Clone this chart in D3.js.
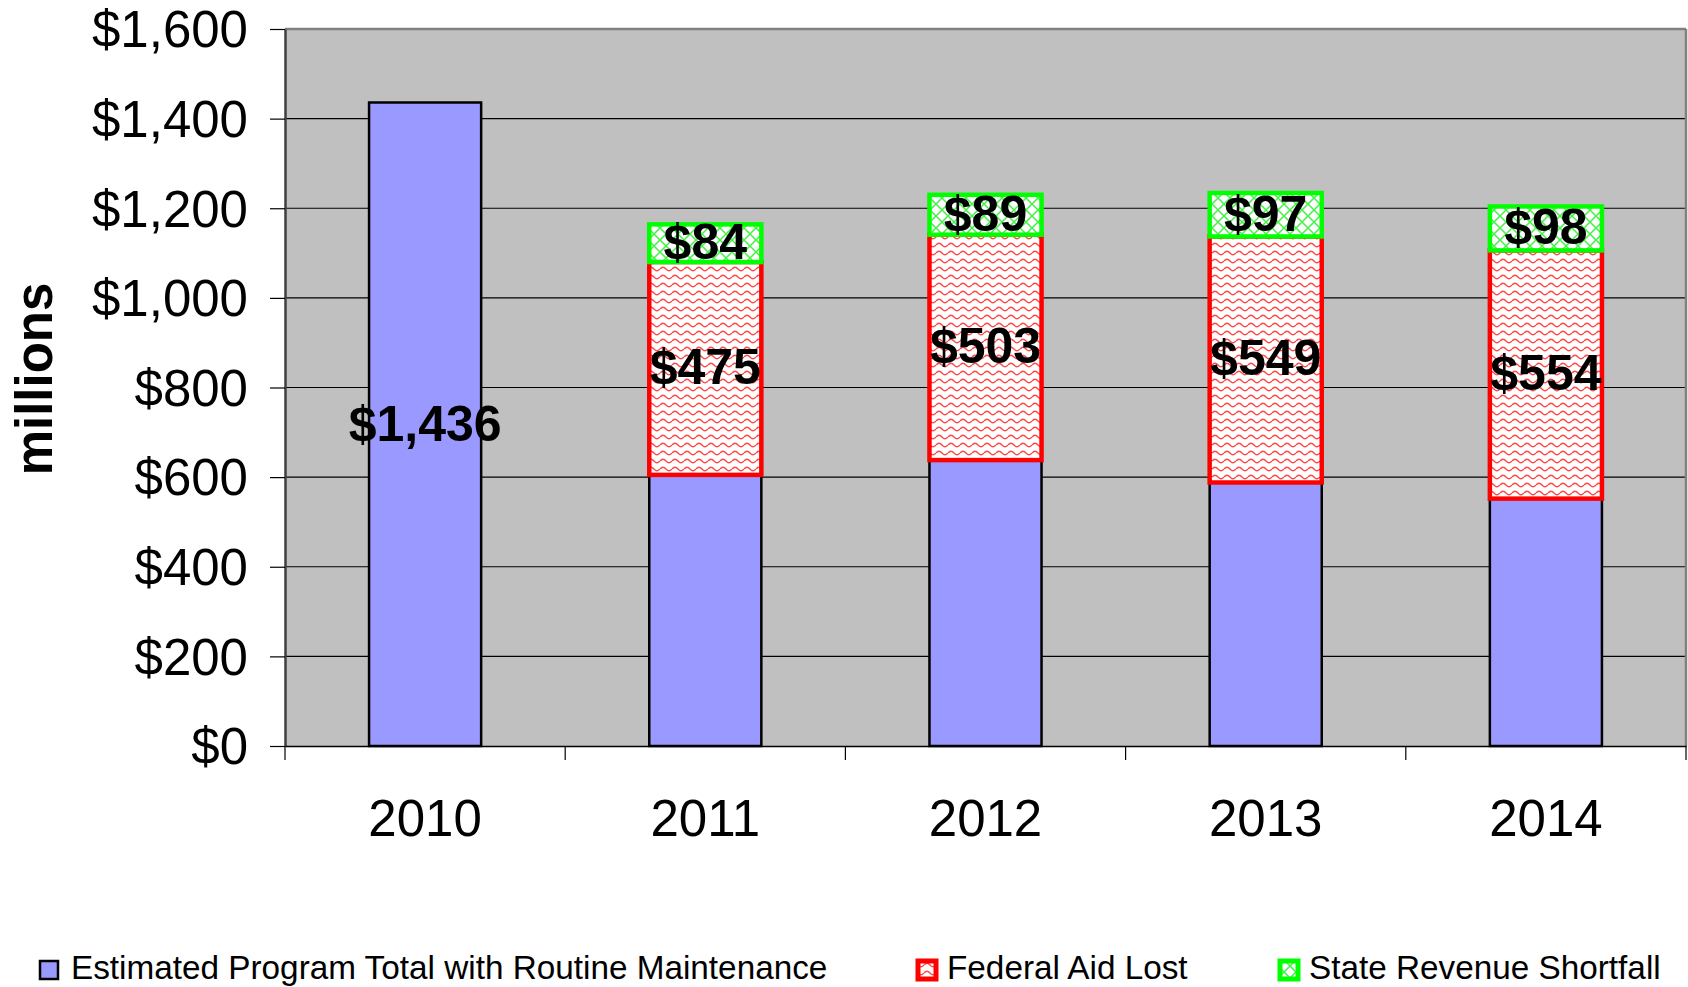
<!DOCTYPE html>
<html>
<head>
<meta charset="utf-8">
<script src="https://cdn.jsdelivr.net/npm/d3@7"></script>
<style>
  html, body { margin: 0; padding: 0; background: #fff; }
  svg { display: block; font-family: "Liberation Sans", Arial, sans-serif; }
</style>
</head>
<body>
<svg id="chart" width="1688" height="987"></svg>
<script>
// ---- data ----
const years = ["2010", "2011", "2012", "2013", "2014"];
const programTotal = [1436, 605, 638, 588, 552];
const federalAidLost = [0, 475, 503, 549, 554];
const stateShortfall = [0, 84, 89, 97, 98];
const yTicks = [0, 200, 400, 600, 800, 1000, 1200, 1400, 1600];
const seriesNames = ["Estimated Program Total with Routine Maintenance", "Federal Aid Lost", "State Revenue Shortfall"];

// ---- layout ----
const svg = d3.select("#chart");
const plot = { left: 285, right: 1686, top: 29, bottom: 746 };

const x = d3.scaleBand().domain(years).range([plot.left, plot.right]).padding(0);
const y = d3.scaleLinear().domain([0, 1600]).range([plot.bottom, plot.top]);
const bw = x.bandwidth();
const barW = bw * 0.4;
const barX = d => x(d) + (bw - barW) / 2;

// ---- patterns ----
const defs = svg.append("defs");
const wave = defs.append("pattern").attr("id", "wave").attr("patternUnits", "userSpaceOnUse")
  .attr("width", 12).attr("height", 8);
wave.append("rect").attr("width", 12).attr("height", 8).attr("fill", "#fff");
wave.append("path").attr("d", "M0,5 Q3,1.5 6,5 T12,5").attr("fill", "none")
  .attr("stroke", "#ff4a4a").attr("stroke-width", 1.4);

const lattice = defs.append("pattern").attr("id", "lattice").attr("patternUnits", "userSpaceOnUse")
  .attr("width", 12).attr("height", 12);
lattice.append("rect").attr("width", 12).attr("height", 12).attr("fill", "#fff");
lattice.append("path").attr("d", "M0,0 L12,12 M12,0 L0,12 M-1,11 L1,13 M11,-1 L13,1").attr("fill", "none")
  .attr("stroke", "#44f044").attr("stroke-width", 1.5);

// ---- plot background ----
svg.append("rect").attr("x", plot.left).attr("y", plot.top)
  .attr("width", plot.right - plot.left).attr("height", plot.bottom - plot.top)
  .attr("fill", "#c0c0c0");

// gridlines
svg.append("g").selectAll("line").data(yTicks.filter(t => t > 0 && t < 1600)).join("line")
  .attr("x1", plot.left).attr("x2", plot.right)
  .attr("y1", d => y(d)).attr("y2", d => y(d))
  .attr("stroke", "#000").attr("stroke-width", 1.2);

// top and right border
svg.append("line").attr("x1", plot.left).attr("x2", plot.right).attr("y1", plot.top).attr("y2", plot.top)
  .attr("stroke", "#808080").attr("stroke-width", 2.5);
svg.append("line").attr("x1", plot.right).attr("x2", plot.right).attr("y1", plot.top).attr("y2", plot.bottom)
  .attr("stroke", "#808080").attr("stroke-width", 2.5);

// ---- bars ----
const data = years.map((yr, i) => ({ yr, a: programTotal[i], b: federalAidLost[i], c: stateShortfall[i] }));

svg.append("g").selectAll("rect").data(data).join("rect")
  .attr("x", d => barX(d.yr)).attr("width", barW)
  .attr("y", d => y(d.a)).attr("height", d => y(0) - y(d.a))
  .attr("fill", "#9999ff").attr("stroke", "#000").attr("stroke-width", 2.5);

svg.append("g").selectAll("rect").data(data.filter(d => d.b > 0)).join("rect")
  .attr("x", d => barX(d.yr)).attr("width", barW)
  .attr("y", d => y(d.a + d.b)).attr("height", d => y(d.a) - y(d.a + d.b))
  .attr("fill", "url(#wave)").attr("stroke", "#ff0000").attr("stroke-width", 4.5);

svg.append("g").selectAll("rect").data(data.filter(d => d.c > 0)).join("rect")
  .attr("x", d => barX(d.yr)).attr("width", barW)
  .attr("y", d => y(d.a + d.b + d.c)).attr("height", d => y(d.a + d.b) - y(d.a + d.b + d.c))
  .attr("fill", "url(#lattice)").attr("stroke", "#00ff00").attr("stroke-width", 4.5);

// ---- axes ----
const yAxis = svg.append("g").attr("transform", `translate(${plot.left},0)`)
  .call(d3.axisLeft(y).tickValues(yTicks).tickFormat(d3.format("$,")).tickSize(15).tickSizeOuter(0).tickPadding(22));
yAxis.select(".domain").attr("stroke", "#404040").attr("stroke-width", 2.5);
yAxis.selectAll(".tick line").attr("stroke", "#000").attr("stroke-width", 1.2);
yAxis.selectAll(".tick text").attr("font-size", 51).attr("fill", "#000").attr("dy", "0.35em")
  .attr("font-family", "'Liberation Sans', Arial, sans-serif");

const xAxis = svg.append("g").attr("transform", `translate(0,${plot.bottom})`)
  .call(d3.axisBottom(x).tickSize(0).tickSizeOuter(0).tickPadding(54));
xAxis.select(".domain").attr("stroke", "#000").attr("stroke-width", 1.5);
xAxis.selectAll(".tick text").attr("font-size", 51).attr("fill", "#000")
  .attr("font-family", "'Liberation Sans', Arial, sans-serif");

// boundary ticks on x axis
const bounds = years.map(d => x(d)).concat([x(years[years.length - 1]) + bw]);
svg.append("g").selectAll("line").data(bounds).join("line")
  .attr("x1", d => d).attr("x2", d => d).attr("y1", plot.bottom).attr("y2", plot.bottom + 14)
  .attr("stroke", "#000").attr("stroke-width", 1.2);

// y axis title
svg.append("text").attr("transform", "translate(52,379) rotate(-90)")
  .attr("text-anchor", "middle").attr("font-size", 51).attr("font-weight", "bold").text("millions");

// ---- data labels ----
const lbl = svg.append("g").attr("font-size", 50).attr("font-weight", "bold").attr("text-anchor", "middle").attr("fill", "#000");
const fmt = d3.format("$,");
lbl.selectAll("text.a").data(data.filter(d => d.b === 0)).join("text").attr("class", "a")
  .attr("x", d => x(d.yr) + bw / 2).attr("y", d => y(d.a / 2)).attr("dy", "0.33em").text(d => fmt(d.a));
lbl.selectAll("text.b").data(data.filter(d => d.b > 0)).join("text").attr("class", "b")
  .attr("x", d => x(d.yr) + bw / 2).attr("y", d => y(d.a + d.b / 2)).attr("dy", "0.31em").text(d => fmt(d.b));
lbl.selectAll("text.c").data(data.filter(d => d.c > 0)).join("text").attr("class", "c")
  .attr("x", d => x(d.yr) + bw / 2).attr("y", d => y(d.a + d.b + d.c / 2)).attr("dy", "0.32em").text(d => fmt(d.c));

// ---- legend ----
const legendItems = [
  { name: seriesNames[0], fill: "#9999ff", stroke: "#000", sw: 2.5, mx: 40, tx: 71 },
  { name: seriesNames[1], fill: "url(#wave)", stroke: "#ff0000", sw: 5, mx: 918, tx: 947 },
  { name: seriesNames[2], fill: "url(#lattice)", stroke: "#00ff00", sw: 5, mx: 1280, tx: 1309 }
];
const lg = svg.append("g");
lg.selectAll("rect").data(legendItems).join("rect")
  .attr("x", d => d.mx).attr("y", 961).attr("width", 18).attr("height", 18)
  .attr("fill", d => d.fill).attr("stroke", d => d.stroke).attr("stroke-width", d => d.sw);
lg.selectAll("text").data(legendItems).join("text")
  .attr("x", d => d.tx).attr("y", 979).attr("font-size", 33.3).attr("fill", "#000").text(d => d.name);
</script>
</body>
</html>
